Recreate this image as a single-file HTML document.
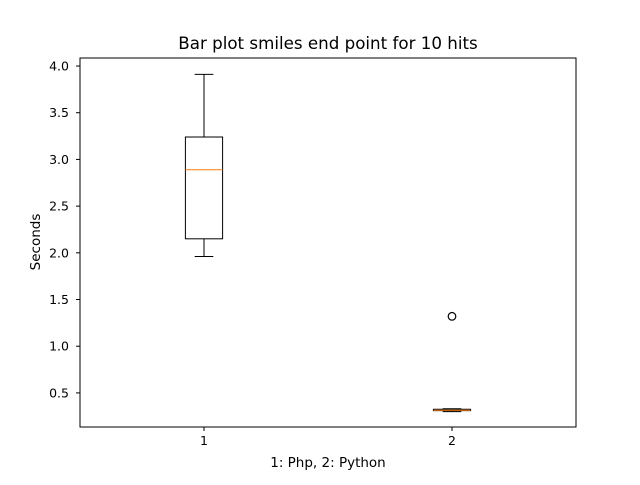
<!DOCTYPE html>
<html><head><meta charset="utf-8"><style>
body{margin:0;background:#fff;}
svg text{font-family:"DejaVu Sans","Liberation Sans",sans-serif;}
</style></head><body>
<svg id="chart" width="640" height="480" xmlns="http://www.w3.org/2000/svg">
<rect width="640" height="480" fill="#fff"/>
<text x="328" y="49" font-size="16.7" text-anchor="middle">Bar plot smiles end point for 10 hits</text>
<g id="marks"></g>
<rect x="80" y="58" width="496" height="369" fill="none" stroke="#000" stroke-width="1"/>
<g id="axes"></g>
<text x="328" y="467" font-size="13.5" text-anchor="middle">1: Php, 2: Python</text>
<text transform="translate(40,242) rotate(-90)" font-size="13.5" text-anchor="middle">Seconds</text>
</svg>
<script>
const categories=["1","2"];
const whiskerLow=[1.96,0.30];
const q1=[2.15,0.31];
const medians=[2.89,0.315];
const q3=[3.24,0.325];
const whiskerHigh=[3.91,0.33];
const outliers=[[],[1.32]];
const yTicks=[0.5,1.0,1.5,2.0,2.5,3.0,3.5,4.0];
const ns="http://www.w3.org/2000/svg";
const L=80,R=576,T=58,B=427,ymin=0.135,ymax=4.086;
function X(i){return L+(i+0.5)/2*(R-L);}
function Y(v){return B-(v-ymin)/(ymax-ymin)*(B-T);}
function mk(tag,a,parent){const e=document.createElementNS(ns,tag);for(const k in a)e.setAttribute(k,a[k]);parent.appendChild(e);return e;}
const m=document.getElementById('marks'),ax=document.getElementById('axes');
const hw=(R-L)/2*0.075;
categories.forEach((c,i)=>{
 const g=mk('g',{},m);
 
 
 const x=X(i);
 const s={stroke:'#000','stroke-width':1,fill:'none'};
 mk('line',Object.assign({x1:x,x2:x,y1:Y(q3[i]),y2:Y(whiskerHigh[i])},s),g);
 mk('line',Object.assign({x1:x,x2:x,y1:Y(q1[i]),y2:Y(whiskerLow[i])},s),g);
 mk('line',Object.assign({x1:x-hw/2,x2:x+hw/2,y1:Y(whiskerHigh[i]),y2:Y(whiskerHigh[i])},s),g);
 mk('line',Object.assign({x1:x-hw/2,x2:x+hw/2,y1:Y(whiskerLow[i]),y2:Y(whiskerLow[i])},s),g);
 mk('rect',Object.assign({x:x-hw,y:Y(q3[i]),width:2*hw,height:Math.max(1,Y(q1[i])-Y(q3[i]))},s),g);
 mk('line',{x1:x-hw,x2:x+hw,y1:Y(medians[i]),y2:Y(medians[i]),stroke:'#ff7f0e','stroke-width':1},g);
 outliers[i].forEach(v=>{
  const o=mk('circle',{cx:x,cy:Y(v),r:3.8,fill:'none',stroke:'#000','stroke-width':1.2},g);
  
  
 });
 mk('line',{x1:x,x2:x,y1:B,y2:B+4,stroke:'#000'},ax);
 const t=mk('text',{x:x,y:B+18,'font-size':12.5,'text-anchor':'middle'},ax);
 t.textContent=c;
 
 
});
yTicks.forEach(v=>{
 mk('line',{x1:L-4,x2:L,y1:Y(v),y2:Y(v),stroke:'#000'},ax);
 const t=mk('text',{x:L-11,y:Y(v)+4.5,'font-size':12.5,'text-anchor':'end'},ax);
 t.textContent=v.toFixed(1);
 
 
});
</script>
</body></html>
